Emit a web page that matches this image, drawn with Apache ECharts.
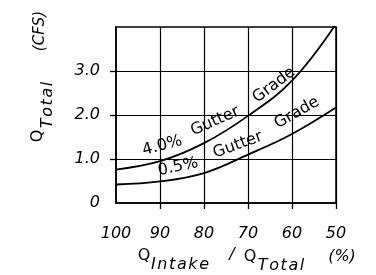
<!DOCTYPE html>
<html>
<head>
<meta charset="utf-8">
<script src="https://cdn.jsdelivr.net/npm/echarts@6/dist/echarts.min.js"></script>
<style>
  html, body { margin: 0; padding: 0; background: #fff; }
  #chart { width: 376px; height: 275px; }
</style>
</head>
<body>
<div id="chart"></div>
<script>
// Q intake / Q total (%) and Q total (cfs)
var intakeRatio = [100, 90, 80, 70, 60, 50];
var grade40 = [0.76, 0.95, 1.36, 1.98, 2.78, 4.07];
var grade05 = [0.42, 0.49, 0.68, 1.10, 1.57, 2.17];

var xTicks = [90, 80, 70, 60, 50];
var xTickLabels = [100, 90, 80, 70, 60, 50];
var yTicks = [1, 2, 3];
var yTickLabels = [0, 1, 2, 3];

// words written along the curves: text, ratio, cfs, angle
var curveWords = [
  ['4.0%', 89.5, 1.30, 15],
  ['Gutter', 77.5, 1.86, 24],
  ['Grade', 64.1, 2.68, 37],
  ['0.5%', 85.9, 0.82, 12],
  ['Gutter', 72.3, 1.32, 20],
  ['Grade', 58.9, 2.05, 30]
];

var font = 'DejaVu Sans';
var ink = '#000';

function pairs(xs, ys) {
  return xs.map(function (x, i) { return [x, ys[i]]; });
}

// widen text a little, the source letters are spaced out
function spaced(s) {
  return s.split('').join('\u200A');
}

var chart = echarts.init(document.getElementById('chart'));

var txt = function (text, x, y, italic, rot, size) {
  return {
    type: 'text', x: x, y: y, rotation: rot || 0,
    style: {
      text: text, fill: ink,
      font: (italic ? 'italic ' : '') + (size || 16) + 'px "' + font + '"',
      align: 'center', verticalAlign: 'middle'
    }
  };
};

chart.setOption({
  backgroundColor: '#fff',
  animation: false,
  grid: {
    left: 116, top: 27, width: 220, height: 176,
    show: true, borderColor: ink, borderWidth: 1.5
  },
  xAxis: {
    type: 'value', inverse: true, min: 50, max: 100, interval: 10,
    axisLine: { lineStyle: { color: ink, width: 1.5 } },
    axisTick: { show: true, customValues: xTicks, length: 6, lineStyle: { color: ink, width: 1.3 } },
    axisLabel: {
      customValues: xTickLabels, margin: 23, color: ink,
      fontFamily: font, fontStyle: 'italic', fontSize: 16
    },
    splitLine: { show: true, lineStyle: { color: ink, width: 1.2 } }
  },
  yAxis: {
    type: 'value', min: 0, max: 4, interval: 1,
    axisLine: { show: true, lineStyle: { color: ink, width: 1.5 } },
    axisTick: { show: true, customValues: yTicks, length: 6, lineStyle: { color: ink, width: 1.3 } },
    axisLabel: {
      customValues: yTickLabels, margin: 16, color: ink,
      fontFamily: font, fontStyle: 'italic', fontSize: 16,
      formatter: function (v) { return v === 0 ? '0' : v.toFixed(1); }
    },
    splitLine: { show: true, lineStyle: { color: ink, width: 1.2 } }
  },
  series: [
    {
      type: 'line', data: pairs(intakeRatio, grade40), smooth: 0.4,
      symbol: 'none', lineStyle: { color: ink, width: 1.8 }
    },
    {
      type: 'line', data: pairs(intakeRatio, grade05), smooth: 0.4,
      symbol: 'none', lineStyle: { color: ink, width: 1.8 }
    },
    {
      type: 'scatter', symbolSize: 0, silent: true,
      itemStyle: { opacity: 1, color: ink },
      data: curveWords.map(function (w) {
        return {
          value: [w[1], w[2]], name: w[0],
          label: { rotate: w[3] }
        };
      }),
      label: {
        show: true, position: 'inside', formatter: '{b}', opacity: 1,
        color: ink, textBorderWidth: 0, fontFamily: font, fontSize: 16
      }
    }
  ],
  graphic: [
    // y axis title
    txt('Q', 38, 136, false, Math.PI / 2),
    txt(spaced('Total'), 48, 105, true, Math.PI / 2),
    txt('(CFS)', 40, 31, true, Math.PI / 2, 15),
    // x axis title
    txt('Q', 144, 256, false),
    txt(spaced('Intake'), 180, 265, true),
    txt('/', 232, 255, true),
    txt('Q', 250, 257, false),
    txt(spaced('Total'), 281, 266, true),
    txt('(%)', 342, 257, true)
  ]
});
</script>
</body>
</html>
